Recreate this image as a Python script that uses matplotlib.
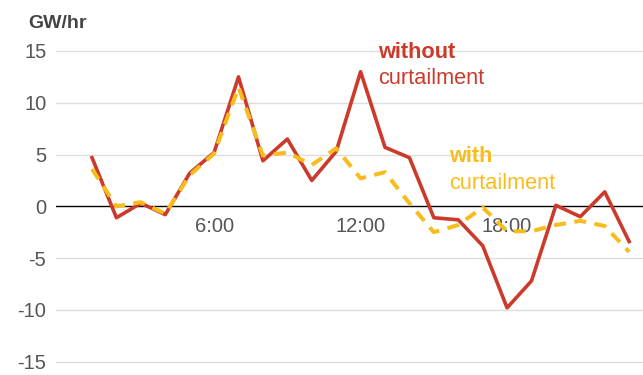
import matplotlib

matplotlib.use("Agg")
import matplotlib.pyplot as plt

# hourly change in net load, GW/hr
hours = list(range(1, 24))
without_curtailment = [4.7, -1.1, 0.3, -0.8, 3.2, 5.2, 12.5, 4.4, 6.5, 2.5, 5.3, 13.0,
                       5.7, 4.7, -1.1, -1.3, -3.8, -9.8, -7.2, 0.1, -1.0, 1.4, -3.4]
with_curtailment = [3.6, 0.0, 0.4, -0.7, 3.0, 5.1, 11.5, 4.9, 5.2, 4.0, 5.6, 2.7,
                    3.3, 0.3, -2.5, -1.8, -0.1, -2.4, -2.4, -1.8, -1.4, -1.9, -4.4]
y_ticks = [-15, -10, -5, 0, 5, 10, 15]
x_ticks = [6, 12, 18]
x_tick_labels = ["6:00", "12:00", "18:00"]

RED = "#cc3a2b"
YELLOW = "#f8bd1c"
plt.rcParams["font.family"] = ["Liberation Sans", "DejaVu Sans"]

fig = plt.figure(figsize=(6.43, 3.75), dpi=100)
ax = fig.add_axes([0.0871, 0.0355, 0.913, 0.8285])
ax.set_xlim(-0.475, 23.57)
ax.set_ylim(-15, 15)

for y in y_ticks:
    if y == 0:
        ax.axhline(y, color="black", lw=1.0, zorder=2)
    else:
        ax.axhline(y, color="#dddddd", lw=1.0, zorder=1, clip_on=False)

ax.plot(hours, without_curtailment, color=RED, lw=2.6, zorder=3)
ax.plot(hours, with_curtailment, color=YELLOW, lw=2.9, zorder=4,
        linestyle=(0, (3.0, 2.1)))

for spine in ax.spines.values():
    spine.set_visible(False)
ax.set_xticks([])
ax.set_yticks(y_ticks)
ax.set_yticklabels([str(v) for v in y_ticks])
ax.tick_params(axis="y", length=0, pad=7, labelsize=14.5, labelcolor="#555555")

for h, lab in zip(x_ticks, x_tick_labels):
    ax.annotate(lab, (h, 0), xytext=(0, -8), textcoords="offset points",
                ha="center", va="top", fontsize=14.5, color="#555555")

fig.text(28 / 643, 1 - 28 / 375, "GW/hr", fontsize=14, fontweight="bold",
         color="#444444", va="baseline")

ax.text(12.72, 14.3, "without", color=RED, fontsize=15.7, fontweight="bold", va="baseline")
ax.text(12.72, 11.8, "curtailment", color=RED, fontsize=15.7, va="baseline")
ax.text(15.63, 4.3, "with", color=YELLOW, fontsize=15.7, fontweight="bold", va="baseline")
ax.text(15.63, 1.7, "curtailment", color=YELLOW, fontsize=15.7, va="baseline")

fig.savefig("out.png", dpi=100)
